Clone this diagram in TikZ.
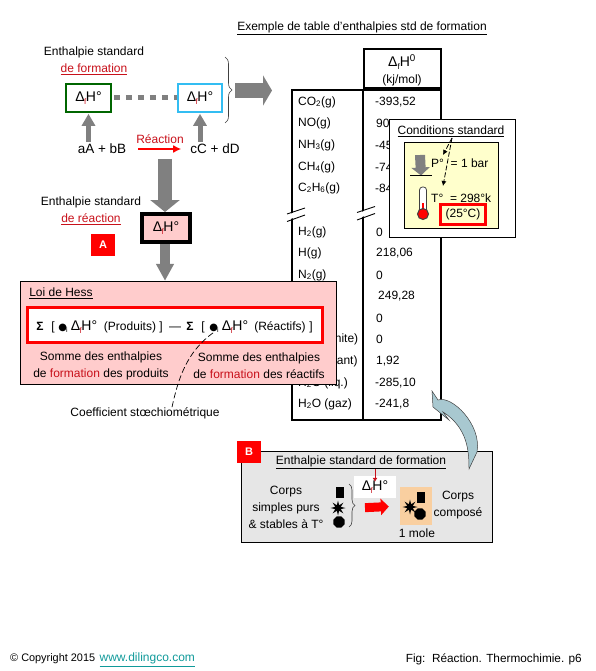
\documentclass[tikz,border=0pt]{standalone}
\usepackage{fontspec}
\setmainfont{Liberation Sans}
\newfontfamily\symfont{DejaVu Sans}
\usepackage{xcolor}
\usetikzlibrary{positioning,arrows.meta,shapes.geometric,decorations.pathreplacing}
\definecolor{pinkfill}{HTML}{FFCCCC}
\definecolor{hotred}{HTML}{FF0000}
\definecolor{textred}{HTML}{C8101A}
\definecolor{blockgrey}{HTML}{808080}
\definecolor{paleyellow}{HTML}{FFFFCC}
\definecolor{palegrey}{HTML}{E6E6E6}
\definecolor{paleorange}{HTML}{F9CFA0}
\definecolor{curveblue}{HTML}{A8C8D0}
\definecolor{weblink}{HTML}{109A9A}
\newcommand{\dfH}{{\fontsize{14}{16}\selectfont Δ\kern-0.5pt\raisebox{-3pt}{\footnotesize\textcolor{textred}{f}}\kern-0.5pt H°}}
\newcommand{\coefi}{{\symfont\fontsize{10}{12}\selectfont ●}\kern-1pt\raisebox{-2pt}{\scriptsize i}}
\tikzset{
  txt/.style={inner sep=0pt, font=\fontsize{12}{17}\selectfont, align=center},
  eqn/.style={txt, font=\fontsize{13.5}{16}\selectfont},
  redtxt/.style={txt, text=textred},
  box/.style={draw, rectangle, inner sep=0pt, font=\fontsize{12}{17}\selectfont, align=center},
  tag/.style={rectangle, fill=hotred, text=white, inner sep=0pt, minimum width=24pt, minimum height=22pt, font=\fontsize{11}{13}\selectfont\bfseries},
  garr/.style={-{Triangle[length=12pt,width=13pt]}, blockgrey, line width=5pt, shorten <=2pt, shorten >=1pt},
  dasharr/.style={-{Latex[length=5pt,width=5pt]}, dash pattern=on 5pt off 2pt, line width=0.8pt},
  brk/.style={line width=0.9pt},
  blob/.style={fill=black, inner sep=0pt},
  starblob/.style={blob, star, star points=8, star point ratio=2.5, minimum size=15pt},
  octblob/.style={blob, regular polygon, regular polygon sides=8, minimum size=12pt},
  recblob/.style={blob, rectangle, minimum width=8pt, minimum height=11pt},
}
\begin{document}
\begin{tikzpicture}[x=1pt,y=-1pt]
\useasboundingbox (0,0) rectangle (595,671);
\node[txt] (ttab) at (362,28) {\underline{Exemple de table d'enthalpies std de formation}};
\node[box, line width=2pt, minimum width=77pt, minimum height=39pt] (hdr) at (402.5,68.5) {};
\node[txt, font=\fontsize{14}{16}\selectfont] (hdrf) at (402,62) {Δ\raisebox{-3pt}{\footnotesize f}H\textsuperscript{0}};
\node[txt] (hdru) at (402,80) {(kj/mol)};
\node[box, line width=2pt, minimum width=149pt, minimum height=330pt, below=0pt of hdr.south east, anchor=north east] (tab) {};
\draw[line width=2pt] (hdr.south west) -- (hdr.south west |- tab.south);
\foreach \n/\y/\lab in {a/102/CO\textsubscript{2}(g), b/123/NO(g), c/145/NH\textsubscript{3}(g), d/167/CH\textsubscript{4}(g), e/188/C\textsubscript{2}H\textsubscript{6}(g), f/232/H\textsubscript{2}(g), g/253/H(g), h/275/N\textsubscript{2}(g), i/339/C(graphite), j/361/C(diamant), k/383/H\textsubscript{2}O (liq.), l/404/H\textsubscript{2}O (gaz)}
  \node[txt, anchor=west] (lab\n) at (298,\y) {\lab};
\foreach \n/\y/\x/\val in {a/102/375/-393{,}52, b/123/376/90, c/145/375/-45, d/167/375/-74, e/188/375/-84, f/232/376/0, g/253/376/218{,}06, h/275/376/0, m/296/378/249{,}28, n/318/376/0, i/339/376/0, j/361/376/1{,}92, k/383/375/-285{,}10, l/404/375/-241{,}8}
  \node[txt, anchor=west] (val\n) at (\x,\y) {\val};
\foreach \x/\y in {296/215, 366/213.5} {
  \draw[white, line width=5pt] (\x-9,\y+2.5) -- (\x+9,\y-3.5);
  \draw[brk] (\x-9,\y-1) -- (\x+9,\y-7);
  \draw[brk] (\x-9,\y+6.5) -- (\x+9,\y);
}
\node[box, minimum width=126pt, minimum height=118pt, fill=white] (cond) at (452,178) {};
\node[txt] (condt) at (451,131) {\underline{Conditions standard}};
\node[box, minimum width=94pt, minimum height=86pt, fill=paleyellow] (condy) at (451,185) {};
\node[txt, anchor=west] (pres) at (431,163) {P°\ \ = 1 bar};
\node[txt, anchor=west] (temp) at (431,198) {T°\ \ = 298°k};
\node[box, line width=2.5pt, draw=hotred, minimum width=45pt, minimum height=20pt] (tc) at (463,214.5) {(25°C)};
\coordinate (pt) at (420,155);
\coordinate (pb) at (421,175.5);
\draw[-{Triangle[length=8pt,width=18pt]}, blockgrey, line width=10pt] (pt) -- (pb);
\draw[line width=0.8pt] ([xshift=-11pt]pb) -- ([xshift=11pt]pb);
\draw[rounded corners=3pt, fill=white, draw=darkgray, line width=0.8pt] (419.5,213) -- (419.5,187) -- (426.5,187) -- (426.5,213);
\draw[draw=hotred, line width=2.5pt] (423,214) -- (423,203);
\node[circle, fill=hotred, draw=darkgray, line width=1pt, minimum size=11pt, inner sep=0pt] (bulb) at (423,214) {};
\coordinate (cn) at (452,138);
\coordinate (cp) at (443,155);
\coordinate (ct) at (443,186);
\draw[dasharr] (cn) -- (cp);
\draw[dasharr] (cn) -- (ct);
\node[txt] (ef) at (94,60.5) {Enthalpie standard\\\textcolor{textred}{\underline{de formation}}};
\node[box, line width=1.6pt, draw=green!40!black, minimum width=45pt, minimum height=28pt] (fg) at (88.5,98) {\dfH};
\node[box, line width=1.6pt, draw=cyan!80!white, minimum width=44pt, minimum height=28pt] (fb) at (200,98) {\dfH};
\draw[blockgrey, line width=5pt, dash pattern=on 6pt off 6pt] (fg.east) ++(2,0) -- (fb.west);
\node[eqn] (reac) at (102,149) {aA + bB};
\node[eqn] (prod) at (215,149) {cC + dD};
\node[redtxt] (rlab) at (160,139) {Réaction};
\draw[garr] (reac.north -| fg) -- (fg);
\draw[garr] (prod.north -| fb) -- (fb);
\draw[-{Latex[length=8pt,width=8pt]}, hotred, line width=2pt, shorten <=12pt, shorten >=9pt] (reac.east) -- (prod.west);
\coordinate (bt) at (225,57);
\coordinate (bb) at (225,123);
\draw[decorate, decoration={brace,amplitude=7pt}, line width=0.6pt, darkgray] (bt) -- (bb);
\coordinate (ba) at (235,90.5);
\coordinate (bz) at (272,90.5);
\draw[-{Triangle[length=9pt,width=30pt]}, blockgrey, line width=15pt] (ba) -- (bz);
\node[txt] (er) at (91,210.5) {Enthalpie standard\\\textcolor{textred}{\underline{de réaction}}};
\node[box, line width=4pt, fill=pinkfill, minimum width=48pt, minimum height=28pt] (blk) at (166,228) {\dfH};
\node[tag] (taga) at (103,245) {A};
\coordinate (bd) at (165,159);
\draw[-{Triangle[length=12pt,width=29pt]}, blockgrey, line width=14pt] (bd) -- (bd |- blk.north);
\node[box, fill=pinkfill, minimum width=316pt, minimum height=103pt] (hess) at (178,332.5) {};
\draw[-{Triangle[length=17pt,width=17pt]}, blockgrey, line width=10pt] (blk.south -| bd) -- (hess.north -| bd);
\node[txt] (hesst) at (61,293) {\underline{Loi de Hess}};
\node[box, line width=2.5pt, draw=hotred, fill=white, minimum width=295pt, minimum height=35pt] (hf) at (175,325) {};
\foreach \n/\x/\t in {a/40/\textbf{Σ}, b/53/[, c/63/\coefi, d/84/\dfH, e/130/(Produits), f/161/], g/175/—, h/190/\textbf{Σ}, i/203/[, j/214/\coefi, k/235/\dfH, l/280/(Réactifs), m/311/]}
  \node[txt, anchor=base] (hf\n) at (\x,330) {\t};
\node[txt] (sp) at (101,365.5) {Somme des enthalpies\\de \textcolor{textred}{formation} des produits};
\node[txt] (sr) at (259,365.5) {Somme des enthalpies\\de \textcolor{textred}{formation} des réactifs};
\node[txt] (coef) at (145,413) {Coefficient stœchiométrique};
\draw[dash pattern=on 6pt off 3pt, line width=0.7pt] (coef.north -| 172,0) .. controls (178,380) and (186,352) .. (hfj.south);
\node[box, fill=palegrey, minimum width=251pt, minimum height=91pt] (fm) at (366.5,496.5) {};
\draw[fill=curveblue, draw=darkgray, line width=0.5pt] (432,391) -- (438,400) .. controls (452,395) and (482,425) .. (477,452) -- (469,469) .. controls (469,452) and (468,428) .. (443,412) -- (449,420) -- (433,407) -- cycle;
\node[tag] (tagb) at (249,452) {B};
\node[txt] (fmt) at (361,462) {\underline{Enthalpie standard de formation}};
\node[txt] (cs) at (286,507) {Corps\\simples purs\\\& stables à T°};
\node[recblob] (s1) at (340,492) {};
\node[starblob] (s2) at (338,508) {};
\node[octblob] (s3) at (339,522) {};
\coordinate (bq) at (349,484);
\coordinate (br) at (349,527);
\draw[decorate, decoration={brace,amplitude=6pt}, line width=0.6pt, darkgray] (bq) -- (br);
\node[rectangle, fill=white, inner sep=0pt, minimum width=42pt, minimum height=22pt, txt] (wb) at (375,487) {\dfH};
\draw[-{Latex[length=4pt,width=5pt]}, textred, line width=0.7pt] (fmt.south -| wb) -- ([yshift=-6pt]wb.north -| wb);
\node[rectangle, fill=paleorange, minimum width=32pt, minimum height=38pt] (org) at (416,506) {};
\draw[-{Triangle[length=8pt,width=16pt]}, hotred, line width=9pt, shorten <=7pt, shorten >=11pt] (358,508) -- (org.west);
\node[recblob] (t1) at (421,497) {};
\node[starblob] (t2) at (410,507) {};
\node[octblob] (t3) at (420,514) {};
\node[txt] (cc) at (458,505.5) {Corps\\composé};
\node[txt] (mole) at (417,533) {1 mole};
\node[txt, anchor=west, font=\fontsize{10.9}{13}\selectfont] (copy) at (10,659) {© Copyright 2015};
\node[txt, font=\fontsize{12}{14}\selectfont, text=weblink, base right=4pt of copy] (web) {\underline{www.dilingco.com}};
\node[txt, anchor=east, font=\fontsize{11.8}{14}\selectfont] (figl) at (582,659) {Fig:\ \ Réaction. Thermochimie. p6};
\end{tikzpicture}
\end{document}
